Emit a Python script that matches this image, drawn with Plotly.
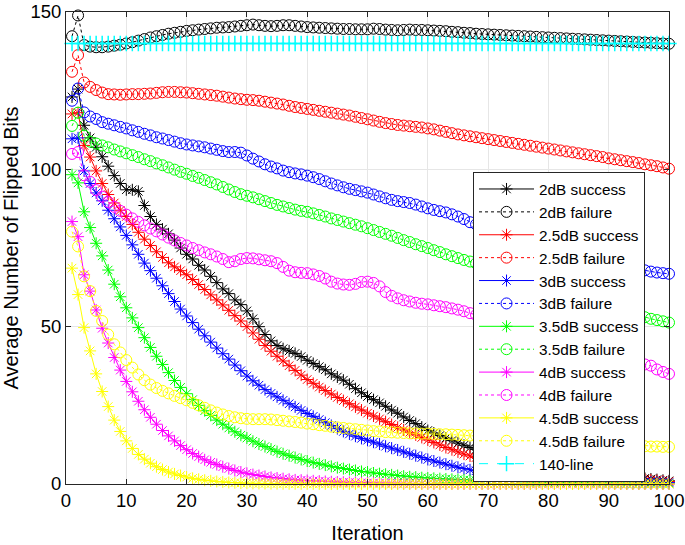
import plotly.graph_objects as go

iterations = list(range(1, 101))

succ_2dB = [123, 125.5, 114, 110, 107, 104, 101, 98, 95.5, 93.5,
            93.5, 93, 88.5, 85, 82.5, 81, 79.5, 77.5, 75, 73,
            71.5, 69.5, 68, 66, 64, 62, 60.5, 58.5, 57, 55,
            52.5, 50, 47.5, 45.5, 44, 43, 42.3, 41.5, 40.5, 39.3,
            38.3, 37.3, 36.3, 35, 34, 33, 31.7, 30.3, 29, 27.8,
            26.8, 25.8, 24.7, 23.5, 22.5, 21.3, 20.2, 19.2, 18.1, 17,
            16.2, 15.4, 14.6, 13.8, 13, 12.3, 11.6, 11, 10.4, 9.8,
            9.3, 8.8, 8.3, 7.8, 7.4, 7, 6.6, 6.2, 5.8, 5.5,
            5.2, 4.9, 4.6, 4.3, 4.1, 3.8, 3.6, 3.4, 3.2, 3.0,
            2.8, 2.6, 2.4, 2.2, 2.0, 1.8, 1.6, 1.4, 1.2, 1.0]

fail_2dB = [142.3, 148.9, 139.5, 139, 138.8, 138.8, 139, 139.3, 139.6, 140,
            140.4, 140.9, 141.4, 141.9, 142.3, 142.7, 143.1, 143.4, 143.7, 144,
            144.2, 144.4, 144.6, 144.8, 145, 145.1, 145.2, 145.4, 145.6, 145.8,
            146, 145.8, 145.6, 145.5, 145.6, 145.8, 145.8, 145.6, 145.4, 145.2,
            145.1, 145, 144.9, 144.8, 144.7, 144.6, 144.6, 144.5, 144.5, 144.5,
            144.7, 144.6, 144.4, 144.3, 144.2, 144.3, 144.4, 144.3, 144.3, 144.2,
            144.1, 144, 143.9, 143.7, 143.6, 143.4, 143.3, 143.1, 143, 142.9,
            142.8, 142.7, 142.6, 142.5, 142.4, 142.3, 142.2, 142.1, 142, 141.9,
            141.8, 141.7, 141.6, 141.5, 141.4, 141.3, 141.2, 141.1, 141, 140.9,
            140.8, 140.7, 140.6, 140.5, 140.4, 140.3, 140.2, 140.1, 140, 139.9]

succ_25dB = [117.6, 118, 107.6, 103.9, 99.5, 95.5, 92, 89.3, 87, 85,
             82.5, 80, 77.8, 75.8, 73.8, 72, 70.3, 69, 67.8, 66.5,
             65, 63.4, 61.8, 60.1, 58.5, 56.9, 55.2, 53.5, 51.8, 50,
             48, 46, 44, 42.2, 40.6, 39.1, 37.6, 36.1, 34.6, 33.2,
             32, 30.8, 29.7, 28.6, 27.5, 26.5, 25.5, 24.5, 23.5, 22.5,
             21.6, 20.7, 19.8, 18.9, 18, 17.2, 16.4, 15.6, 14.8, 14,
             13.2, 12.4, 11.6, 10.9, 10.2, 9.5, 8.9, 8.4, 7.9, 7.5,
             7.1, 6.8, 6.4, 6.1, 5.8, 5.5, 5.2, 5, 4.7, 4.5,
             4.3, 4.1, 3.9, 3.7, 3.5, 3.3, 3.1, 2.9, 2.7, 2.5,
             2.3, 2.2, 2, 1.8, 1.6, 1.5, 1.3, 1.1, 0.9, 0.8]

fail_25dB = [131, 136.3, 127.6, 126.2, 125.2, 124.4, 123.9, 123.8, 123.7, 123.8,
             123.9, 123.9, 124, 124.1, 124.3, 124.5, 124.6, 124.6, 124.5, 124.4,
             124.2, 124, 123.8, 123.6, 123.4, 123.1, 122.8, 122.5, 122.3, 122.1,
             122, 121.8, 121.5, 121.2, 120.9, 120.6, 120.2, 119.8, 119.5, 119.2,
             118.9, 118.6, 118.3, 118, 117.7, 117.4, 117.1, 116.7, 116.3, 115.9,
             115.5, 115.1, 114.7, 114.4, 114.1, 113.9, 113.7, 113.5, 113.3, 113,
             112.7, 112.3, 111.9, 111.5, 111.1, 110.8, 110.5, 110.2, 109.9, 109.6,
             109.3, 109, 108.7, 108.4, 108.1, 107.8, 107.5, 107.2, 106.9, 106.6,
             106.3, 106, 105.7, 105.4, 105.1, 104.8, 104.5, 104.2, 103.9, 103.5,
             103.2, 102.9, 102.6, 102.3, 102, 101.6, 101.3, 101, 100.6, 100.2]

succ_3dB = [109.7, 110, 99.5, 95.5, 92.5, 90, 87, 84.3, 81.7, 79,
            76, 73, 70.2, 67.8, 65.4, 63, 60.5, 58, 55.6, 53.4,
            51.3, 49.2, 47.1, 45.1, 43.2, 41.4, 39.7, 37.8, 36, 34.3,
            32.8, 31.4, 30, 28.8, 27.7, 26.6, 25.5, 24.5, 23.4, 22.4,
            21.5, 20.5, 19.5, 18.6, 17.6, 16.7, 15.9, 15.2, 14.5, 13.9,
            13.3, 12.7, 12, 11.4, 10.8, 10.2, 9.6, 9, 8.4, 7.8,
            7.3, 6.8, 6.3, 5.8, 5.3, 4.9, 4.5, 4.2, 3.9, 3.6,
            3.4, 3.2, 3, 2.8, 2.6, 2.4, 2.3, 2.1, 2, 1.9,
            1.8, 1.7, 1.6, 1.5, 1.4, 1.3, 1.2, 1.1, 1, 0.95,
            0.9, 0.85, 0.8, 0.75, 0.7, 0.65, 0.6, 0.55, 0.5, 0.45]

fail_3dB = [121.8, 125.7, 118.1, 116.8, 116, 115, 114.5, 114, 113.5, 113,
            112.4, 111.9, 111.3, 110.8, 110.2, 109.8, 109.3, 108.8, 108.3, 107.9,
            107.6, 107.3, 107, 106.6, 106.2, 105.8, 105.5, 105.5, 105.3, 104.4,
            103.4, 102.5, 101.6, 100.9, 100.3, 99.6, 99.1, 98.7, 98.4, 98,
            97.5, 96.9, 96.2, 95.5, 94.9, 94.3, 93.8, 93.4, 93, 92.6,
            92, 91.4, 90.8, 90.3, 89.9, 89.6, 89.3, 88.8, 88.2, 87.6,
            87.1, 86.7, 86.3, 85.7, 85, 84.2, 83.2, 82.5, 81.9, 81.3,
            80.7, 80.1, 79.5, 78.9, 78.3, 77.8, 77.3, 76.8, 76.3, 75.8,
            75.3, 74.7, 74.1, 73.6, 73.1, 72.6, 72.1, 71.6, 71.1, 70.6,
            70.1, 69.6, 69.1, 68.7, 68.3, 67.9, 67.5, 67.2, 67, 66.8]

succ_35dB = [98.3, 95.7, 86.5, 81.5, 76.5, 72.5, 68, 63.5, 59.5, 56,
             52.8, 49.7, 46.5, 43.4, 40.6, 38, 35.4, 32.9, 30.7, 28.7,
             26.8, 25, 23.3, 21.8, 20.3, 19, 17.8, 16.6, 15.5, 14.6,
             13.6, 12.7, 11.9, 11.1, 10.3, 9.6, 9, 8.4, 7.8, 7.3,
             6.8, 6.4, 6, 5.6, 5.2, 4.9, 4.6, 4.3, 4, 3.8,
             3.5, 3.3, 3.1, 2.9, 2.7, 2.5, 2.3, 2.2, 2, 1.9,
             1.8, 1.7, 1.6, 1.5, 1.4, 1.3, 1.2, 1.1, 1.05, 1,
             0.95, 0.9, 0.85, 0.8, 0.75, 0.7, 0.66, 0.62, 0.58, 0.55,
             0.52, 0.49, 0.46, 0.43, 0.4, 0.38, 0.36, 0.34, 0.32, 0.3,
             0.28, 0.26, 0.24, 0.22, 0.2, 0.19, 0.18, 0.17, 0.16, 0.15]

fail_35dB = [113.8, 118, 110.7, 108.8, 108.2, 107.6, 107, 106.3, 105.7, 105.1,
             104.5, 103.9, 103.2, 102.6, 101.9, 101.3, 100.6, 99.9, 99.2, 98.6,
             97.9, 97.3, 96.6, 95.9, 95.2, 94.4, 93.6, 92.8, 92.1, 91.6,
             91.1, 90.5, 89.9, 89.3, 88.7, 88.2, 87.7, 87.2, 86.8, 86.5,
             86, 85.5, 85, 84.4, 83.9, 83.4, 82.9, 82.4, 81.9, 81.3,
             80.7, 80.1, 79.5, 78.9, 78.2, 77.5, 76.9, 76.2, 75.6, 75,
             74.3, 73.7, 73, 72.4, 71.8, 71.2, 70.7, 70.1, 69.5, 68.9,
             68.3, 67.7, 67.1, 66.5, 65.9, 65.2, 64.6, 64, 63.4, 62.8,
             62.2, 61.5, 60.9, 60.3, 59.7, 59.1, 58.5, 57.8, 57.2, 56.6,
             56, 55.4, 54.8, 54.2, 53.6, 53, 52.5, 52.1, 51.7, 51.3]

succ_4dB = [83.4, 78.6, 66.5, 61.3, 55.3, 49.5, 44.8, 40.2, 36.2, 32.6,
            29.3, 26.3, 23.6, 21.2, 19, 17, 15.3, 13.7, 12.2, 10.9,
            9.7, 8.7, 7.7, 6.9, 6.2, 5.5, 4.9, 4.3, 3.8, 3.4,
            3, 2.7, 2.4, 2.1, 1.9, 1.7, 1.5, 1.3, 1.2, 1.1,
            1, 0.9, 0.8, 0.7, 0.6, 0.55, 0.5, 0.45, 0.4, 0.35,
            0.32, 0.29, 0.26, 0.23, 0.2, 0.18, 0.16, 0.14, 0.12, 0.1,
            0.09, 0.08, 0.08, 0.07, 0.07, 0.06, 0.06, 0.05, 0.05, 0.05,
            0.04, 0.04, 0.04, 0.03, 0.03, 0.03, 0.03, 0.02, 0.02, 0.02,
            0.02, 0.02, 0.02, 0.01, 0.01, 0.01, 0.01, 0.01, 0.01, 0.01,
            0.01, 0.01, 0, 0, 0, 0, 0, 0, 0, 0]

fail_4dB = [104.9, 105.5, 98.1, 96, 93.4, 91.3, 89.6, 88.1, 86.8, 85.6,
            84.4, 83.3, 82.2, 81.2, 80.3, 79.3, 78.3, 77.4, 76.6, 75.8,
            75, 74.3, 73.6, 73, 72.3, 71.5, 70.5, 70.8, 71.5, 71.8,
            71.7, 71.4, 71.1, 70.8, 70.2, 69, 67.8, 67.3, 67.1, 67,
            66.6, 66.1, 65.3, 64.3, 63.7, 63.4, 63.3, 63.6, 64.2, 64.3,
            63.9, 62.8, 61, 59.8, 59, 58.4, 58, 57.6, 57.3, 57.1,
            56.8, 56.5, 56.2, 55.8, 55.4, 54.9, 54.3, 53.7, 53.2, 52.6,
            52, 51.4, 50.8, 50.2, 49.6, 49, 48.4, 47.8, 47.2, 46.6,
            46, 45.4, 44.8, 44.2, 43.6, 43, 42.4, 41.8, 41.2, 40.6,
            40, 39.5, 39, 38.6, 38.3, 38, 37.6, 36.4, 35.6, 35]

succ_45dB = [68.6, 60.2, 49.7, 42.3, 35, 29.4, 24.6, 20.3, 16.7, 13.7,
             11.3, 9.4, 7.9, 6.6, 5.5, 4.6, 3.8, 3.2, 2.7, 2.2,
             1.8, 1.5, 1.2, 1, 0.8, 0.65, 0.5, 0.4, 0.3, 0.25,
             0.2, 0.18, 0.16, 0.14, 0.12, 0.1, 0.09, 0.08, 0.07, 0.06,
             0.05, 0.05, 0.04, 0.04, 0.03, 0.03, 0.03, 0.02, 0.02, 0.02,
             0.02, 0.01, 0.01, 0.01, 0.01, 0.01, 0.01, 0.01, 0.01, 0.01,
             0, 0, 0, 0, 0, 0, 0, 0, 0, 0,
             0, 0, 0, 0, 0, 0, 0, 0, 0, 0,
             0, 0, 0, 0, 0, 0, 0, 0, 0, 0,
             0, 0, 0, 0, 0, 0, 0, 0, 0, 0]

fail_45dB = [80.2, 75.5, 66, 61.3, 55, 51.8, 47.5, 44.4, 41.8, 39.4,
             37, 34.8, 33, 31.6, 30.5, 29.6, 28.8, 28, 27.3, 26.6,
             25.8, 25, 24.2, 23.4, 22.7, 22.1, 21.6, 21.2, 20.9, 20.7,
             20.6, 20.6, 20.6, 20.5, 20.3, 20.1, 19.9, 19.7, 19.5, 19.2,
             19, 18.7, 18.5, 18.2, 18, 17.8, 17.6, 17.4, 17.2, 17,
             16.8, 16.7, 16.5, 16.4, 16.3, 16.2, 16.1, 16.1, 16, 16,
             15.9, 15.8, 15.8, 15.7, 15.6, 15.5, 15.4, 15.3, 15.2, 15.1,
             15, 14.9, 14.7, 14.6, 14.5, 14.4, 14.2, 14.1, 14, 13.8,
             13.7, 13.6, 13.5, 13.3, 13.2, 13.1, 13, 12.8, 12.7, 12.6,
             12.5, 12.4, 12.3, 12.2, 12.1, 12, 11.9, 11.9, 11.8, 11.8]

line_140_level = 140
line_140 = [line_140_level for _ in iterations]

x_tick_values = [0, 10, 20, 30, 40, 50, 60, 70, 80, 90, 100]
y_tick_values = [0, 50, 100, 150]

series = [
    ("2dB success", succ_2dB, "#000000", "success"),
    ("2dB failure", fail_2dB, "#000000", "failure"),
    ("2.5dB success", succ_25dB, "#FF0000", "success"),
    ("2.5dB failure", fail_25dB, "#FF0000", "failure"),
    ("3dB success", succ_3dB, "#0000FF", "success"),
    ("3dB failure", fail_3dB, "#0000FF", "failure"),
    ("3.5dB success", succ_35dB, "#00FF00", "success"),
    ("3.5dB failure", fail_35dB, "#00FF00", "failure"),
    ("4dB success", succ_4dB, "#FF00FF", "success"),
    ("4dB failure", fail_4dB, "#FF00FF", "failure"),
    ("4.5dB success", succ_45dB, "#FFFF00", "success"),
    ("4.5dB failure", fail_45dB, "#FFFF00", "failure"),
]

FONT = "Liberation Sans, Arial, Helvetica, sans-serif"

fig = go.Figure()
for name, vals, color, kind in series:
    if kind == "success":
        line = dict(color=color, width=1, dash="solid")
        marker = dict(symbol="asterisk-open", size=10, color=color,
                      line=dict(color=color, width=1))
    else:
        line = dict(color=color, width=1, dash="dot")
        marker = dict(symbol="circle-open", size=11, color=color,
                      line=dict(color=color, width=1))
    fig.add_trace(go.Scatter(x=iterations, y=vals, name=name, mode="lines+markers",
                             line=line, marker=marker, cliponaxis=False))

fig.add_trace(go.Scatter(x=iterations, y=line_140, name="140-line", mode="lines+markers",
                         line=dict(color="#00FFFF", width=1, dash="dash"),
                         marker=dict(symbol="cross-thin-open", size=11, color="#00FFFF",
                                     line=dict(color="#00FFFF", width=1.5)),
                         cliponaxis=False))

axis_common = dict(
    showline=True, linecolor="#262626", linewidth=1, mirror="ticks",
    ticks="inside", ticklen=5, tickcolor="#262626", tickwidth=1,
    showgrid=True, gridcolor="#e6e6e6", gridwidth=1, zeroline=False,
    tickfont=dict(family=FONT, size=18.5, color="#000000"),
    ticklabeloverflow="allow", automargin=False,
)

fig.update_layout(
    width=685, height=545,
    margin=dict(l=66, r=16, t=12, b=61),
    paper_bgcolor="white", plot_bgcolor="white",
    font=dict(family=FONT, color="#000000"),
    xaxis=dict(range=[0, 100], tickvals=x_tick_values,
               title=dict(text="Iteration", font=dict(family=FONT, size=20)),
               **axis_common),
    yaxis=dict(range=[0, 150], tickvals=y_tick_values,
               title=dict(text="Average Number of Flipped Bits", font=dict(family=FONT, size=20)),
               **axis_common),
    legend=dict(x=0.675, y=0.662, xanchor="left", yanchor="top",
                bgcolor="white", bordercolor="#262626", borderwidth=1,
                font=dict(family=FONT, size=15.3, color="#000000"),
                itemwidth=55, tracegroupgap=0),
    showlegend=True,
)

fig.write_html("out.html",
               config={"displayModeBar": False},
               post_script="document.body.style.margin='0';document.body.style.overflow='hidden';")
